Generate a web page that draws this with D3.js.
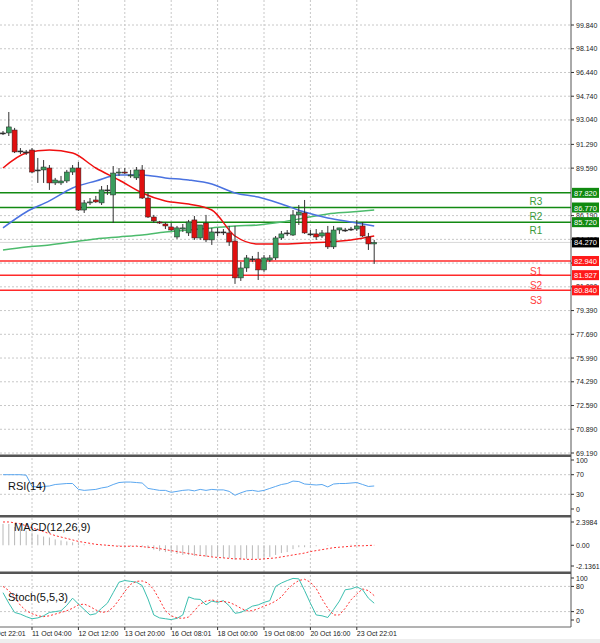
<!DOCTYPE html>
<html><head><meta charset="utf-8">
<script src="https://cdn.jsdelivr.net/npm/d3@7"></script>
<style>body{margin:0;background:#fff}svg{display:block;font-family:"Liberation Sans",Arial,sans-serif}</style>
</head><body><svg id="c" width="600" height="643"></svg>
<script>
const opens=[92.11,92.11,92.32,90.82,90.75,90.89,89.46,89.46,89.60,88.53,88.53,88.67,89.31,89.60,86.59,87.10,87.31,87.10,88.03,87.67,89.24,89.31,89.03,88.89,89.46,87.45,86.09,85.73,85.59,85.38,84.66,85.23,84.95,85.88,84.59,85.66,84.45,85.02,85.02,84.95,84.37,81.73,82.44,83.09,83.09,82.30,83.01,83.16,84.59,84.95,84.80,86.24,86.38,84.88,84.88,84.73,84.95,83.95,85.16,85.16,85.23,85.23,85.45,84.66,84.16];
const highs=[92.25,93.61,92.47,91.03,90.89,91.03,90.32,90.17,89.81,88.89,89.03,89.46,89.81,90.03,87.31,87.45,87.60,88.31,88.38,89.74,89.60,89.60,89.46,89.67,89.81,87.88,86.24,85.81,85.73,85.66,85.45,85.59,85.88,86.16,85.31,86.24,85.31,85.31,85.23,85.45,85.45,82.87,83.37,83.30,83.59,83.37,83.37,84.73,85.09,85.16,86.59,86.95,87.31,85.16,85.23,85.16,85.45,85.45,85.31,85.31,85.38,85.88,85.73,84.95,84.45];
const lows=[91.96,91.89,90.67,90.60,90.53,89.24,88.53,88.53,88.03,88.38,88.38,88.53,89.10,86.52,86.38,86.95,87.10,86.95,87.67,85.66,89.03,89.17,88.89,88.74,87.38,86.02,85.66,85.59,85.23,85.09,84.52,85.02,84.73,84.45,84.45,84.30,84.09,84.73,84.80,84.02,81.30,81.51,82.16,82.87,81.58,82.16,82.87,83.01,84.45,84.73,84.73,85.52,84.88,84.73,84.45,84.59,83.80,83.80,84.88,85.02,85.09,85.09,84.66,83.73,82.73];
const closes=[92.11,92.54,90.75,90.82,90.75,89.31,89.46,89.67,88.53,88.74,88.67,89.31,89.60,86.59,87.10,87.17,87.17,88.03,88.03,89.24,89.31,89.24,89.10,89.46,87.45,86.09,85.81,85.66,85.45,85.16,85.31,85.31,85.73,84.59,85.52,84.45,85.02,85.02,85.02,84.30,81.73,82.44,83.16,83.09,82.30,83.16,83.16,84.59,84.88,84.95,86.24,86.45,84.95,84.88,84.66,84.95,83.95,85.16,85.31,85.16,85.23,85.45,84.73,84.16,84.27];
const maIdx=[0,4,8,12,16,20,24,28,32,36,40,44,48,52,56,60,64];
const maRed=[89.60,90.67,90.89,90.67,89.60,88.74,87.81,87.24,87.02,86.59,84.73,84.16,84.16,84.23,84.30,84.45,84.73];
const maBlue=[85.31,86.45,87.24,88.17,88.67,89.10,89.10,88.89,88.74,88.45,87.81,87.52,87.02,86.45,86.02,85.73,85.45];
const maGreen=[83.73,83.95,84.09,84.30,84.52,84.66,84.80,85.02,85.16,85.31,85.45,85.52,85.73,86.02,86.31,86.45,86.59];
const rsi=[70,70,70,70,69,46,45,46,47,50,51,52,52,40,38,39,40,43,45,50,54,55,55,54,53,42,40,38,38,34,36,38,39,37,40,38,40,39,39,36,28,33,37,38,36,38,42,46,50,52,57,56,51,50,49,50,45,51,52,52,53,54,50,46,47];
const macdHist=[2.2,2.2,1.9,1.7,1.5,1.3,1.1,0.9,0.8,0.6,0.5,0.4,0.3,0.2,0.1,0.05,0,-0.05,-0.05,-0.05,-0.1,-0.1,-0.1,-0.1,-0.15,-0.3,-0.45,-0.6,-0.7,-0.8,-0.9,-1.0,-1.0,-1.1,-1.1,-1.2,-1.2,-1.2,-1.3,-1.3,-1.5,-1.5,-1.4,-1.4,-1.4,-1.3,-1.2,-1.0,-0.8,-0.7,-0.4,-0.2,-0.2,-0.1,-0.1,0,-0.05,0,0,0,0.05,0.05,0,0,0];
const macdSig=[2.4,2.4,2.3,2.2,2.0,1.8,1.6,1.4,1.2,1.0,0.85,0.7,0.55,0.4,0.3,0.2,0.1,0.05,0,-0.05,-0.1,-0.1,-0.1,-0.1,-0.15,-0.2,-0.25,-0.35,-0.45,-0.55,-0.65,-0.75,-0.85,-0.95,-1.05,-1.1,-1.2,-1.25,-1.3,-1.35,-1.4,-1.4,-1.45,-1.45,-1.45,-1.4,-1.35,-1.3,-1.2,-1.1,-1.0,-0.9,-0.8,-0.65,-0.55,-0.45,-0.35,-0.25,-0.2,-0.15,-0.1,-0.05,-0.05,-0.02,0];
const stochK=[65,40,18,14,8,3,5,10,18,20,22,35,52,38,25,12,15,28,40,65,90,94,92,90,82,50,12,5,3,1,4,12,55,50,49,36,45,42,46,34,16,18,25,33,36,42,46,80,88,94,99,98,70,40,12,10,6,25,45,72,74,79,72,52,40];
const stochD=[80,70,55,35,22,15,10,8,10,14,18,22,28,36,38,32,24,18,20,30,48,68,85,92,93,88,72,48,22,10,5,4,7,22,38,45,48,44,44,42,36,28,22,22,27,33,38,45,55,72,85,94,97,90,75,50,28,12,12,28,48,62,74,70,58];
const priceTicks=[99.84,98.14,96.44,94.74,93.04,91.29,89.59,86.19,84.49,82.79,81.09,79.39,77.69,75.99,74.29,72.59,70.89,69.19];
const levelNames=["R3","R2","R1","S1","S2","S3"];
const levelValues=[87.82,86.77,85.72,82.94,81.927,80.84];
const lastPrice=84.27;
const dateLabels=["10 Oct 22:01","11 Oct 04:00","12 Oct 12:00","13 Oct 20:00","16 Oct 08:01","18 Oct 00:00","19 Oct 08:00","20 Oct 16:00","23 Oct 22:01"];
const dateIdx=[-3,5,13,21,29,37,45,53,61];

const svg=d3.select("#c");
const AX=571;
const x=d3.scaleLinear().domain([0,1]).range([3,8.8]);
const y=d3.scaleLinear().domain([69.19,99.84]).range([453,25]);
const yR=d3.scaleLinear().domain([0,100]).range([509,460]);
const yM=d3.scaleLinear().domain([-2.1361,2.3984]).range([566,522]);
const yS=d3.scaleLinear().domain([0,100]).range([620,578]);
const grid="#c8c8c8";
// vertical grid
[458,518,575].concat([0]);
const panels=[[0,455],[458,515],[518,572],[575,627]];
panels.forEach(([a,b])=>{
  dateIdx.slice(1).forEach(i=>svg.append("line").attr("x1",x(i)).attr("x2",x(i)).attr("y1",a).attr("y2",b).attr("stroke",grid).attr("stroke-dasharray","2,2"));
});
priceTicks.forEach(v=>svg.append("line").attr("x1",0).attr("x2",AX).attr("y1",y(v)).attr("y2",y(v)).attr("stroke",grid).attr("stroke-dasharray","2,2"));
[[yR,[70,30]],[yS,[80,20]]].forEach(([s,vs])=>vs.forEach(v=>svg.append("line").attr("x1",0).attr("x2",AX).attr("y1",s(v)).attr("y2",s(v)).attr("stroke",grid).attr("stroke-dasharray","2,2")));
// last price line
svg.append("line").attr("x1",0).attr("x2",AX).attr("y1",y(lastPrice)).attr("y2",y(lastPrice)).attr("stroke","#d8d8d8");
// levels
levelValues.forEach((v,k)=>{
  const c=k<3?"#138a13":"#ff2a2a";
  svg.append("line").attr("x1",0).attr("x2",AX).attr("y1",y(v)).attr("y2",y(v)).attr("stroke",c).attr("stroke-width",1.5);
  svg.append("text").attr("x",536).attr("y",y(v)+(k<3?12:14)).attr("text-anchor","middle").attr("font-size",10).attr("fill",k<3?"#3a9a3a":"#ff4040").text(levelNames[k]);
});
// MAs
const line=d3.line().x((d,i)=>x(maIdx[i])).y(d=>y(d)).curve(d3.curveMonotoneX);
[[maGreen,"#4cbb6c"],[maBlue,"#4a72e0"],[maRed,"#f01010"]].forEach(([a,c])=>svg.append("path").attr("d",line(a)).attr("fill","none").attr("stroke",c).attr("stroke-width",1.5));
// candles
opens.forEach((o,i)=>{
  const c=closes[i],up=c>=o;
  svg.append("line").attr("x1",x(i)).attr("x2",x(i)).attr("y1",y(highs[i])).attr("y2",y(lows[i])).attr("stroke","#333");
  svg.append("rect").attr("x",x(i)-2.5).attr("width",5).attr("y",y(Math.max(o,c))).attr("height",Math.max(1,Math.abs(y(o)-y(c)))).attr("fill",Math.abs(o-c)<0.02?"#333":(up?"#3a9d5d":"#e01010")).attr("stroke","#222").attr("stroke-width",0.5);
});
// RSI
svg.append("path").attr("d",d3.line().x((d,i)=>x(i)).y(d=>yR(d))(rsi)).attr("fill","none").attr("stroke","#5aa7f0").attr("stroke-width",1);
// MACD
macdHist.forEach((v,i)=>svg.append("line").attr("x1",x(i)).attr("x2",x(i)).attr("y1",yM(0)).attr("y2",yM(v)).attr("stroke","#b8b8b8"));
svg.append("path").attr("d",d3.line().x((d,i)=>x(i)).y(d=>yM(d)).curve(d3.curveMonotoneX)(macdSig)).attr("fill","none").attr("stroke","#ff3030").attr("stroke-dasharray","2,2");
// Stoch
svg.append("path").attr("d",d3.line().x((d,i)=>x(i)).y(d=>yS(d))(stochK)).attr("fill","none").attr("stroke","#3cbfb0");
svg.append("path").attr("d",d3.line().x((d,i)=>x(i)).y(d=>yS(d))(stochD)).attr("fill","none").attr("stroke","#ff3030").attr("stroke-dasharray","2,2");
// separators & axis
[455.5,516,572.5].forEach(v=>svg.append("rect").attr("x",0).attr("y",v-1).attr("width",AX).attr("height",2.5).attr("fill","#555"));
svg.append("line").attr("x1",0).attr("x2",AX).attr("y1",627).attr("y2",627).attr("stroke","#666");
svg.append("line").attr("x1",AX).attr("x2",AX).attr("y1",0).attr("y2",627).attr("stroke","#555");
// right labels
const lab=(v,yy)=>{svg.append("line").attr("x1",AX).attr("x2",AX+3).attr("y1",yy).attr("y2",yy).attr("stroke","#333");svg.append("text").attr("x",AX+5).attr("y",yy+2.5).attr("font-size",7).attr("fill","#222").text(v);};
priceTicks.forEach(v=>lab(v.toFixed(3),y(v)));
[[100,"100"],[70,"70"],[30,"30"],[0,"0"]].forEach(([v,t])=>lab(t,yR(v)));
[[2.3984,"2.3984"],[0,"0.00"],[-2.1361,"-2.1361"]].forEach(([v,t])=>lab(t,yM(v)));
[[100,"100"],[80,"80"],[20,"20"],[0,"0"]].forEach(([v,t])=>lab(t,yS(v)));
const box=(v,bg,fg)=>{svg.append("rect").attr("x",AX+1).attr("y",y(v)-5).attr("width",27).attr("height",10).attr("fill",bg);svg.append("text").attr("x",AX+3).attr("y",y(v)+3).attr("font-size",7.5).attr("fill",fg).text(v.toFixed(3));};
levelValues.forEach((v,k)=>box(v,k<3?"#108a10":"#ff1a1a","#fff"));
box(lastPrice,"#000","#fff");
// panel titles
svg.append("text").attr("x",8).attr("y",490).attr("font-size",11).attr("fill","#111").text("RSI(14)");
svg.append("text").attr("x",14).attr("y",531).attr("font-size",11).attr("fill","#111").text("MACD(12,26,9)");
svg.append("text").attr("x",8).attr("y",601).attr("font-size",11).attr("fill","#111").text("Stoch(5,5,3)");
// date axis
dateIdx.forEach((i,k)=>{svg.append("line").attr("x1",x(i)).attr("x2",x(i)).attr("y1",627).attr("y2",630).attr("stroke","#333");svg.append("text").attr("x",x(i)).attr("y",636).attr("font-size",7).attr("fill","#222").text(dateLabels[k]);});
svg.append("rect").attr("x",0).attr("y",639).attr("width",600).attr("height",4).attr("fill","#eee");
</script></body></html>
